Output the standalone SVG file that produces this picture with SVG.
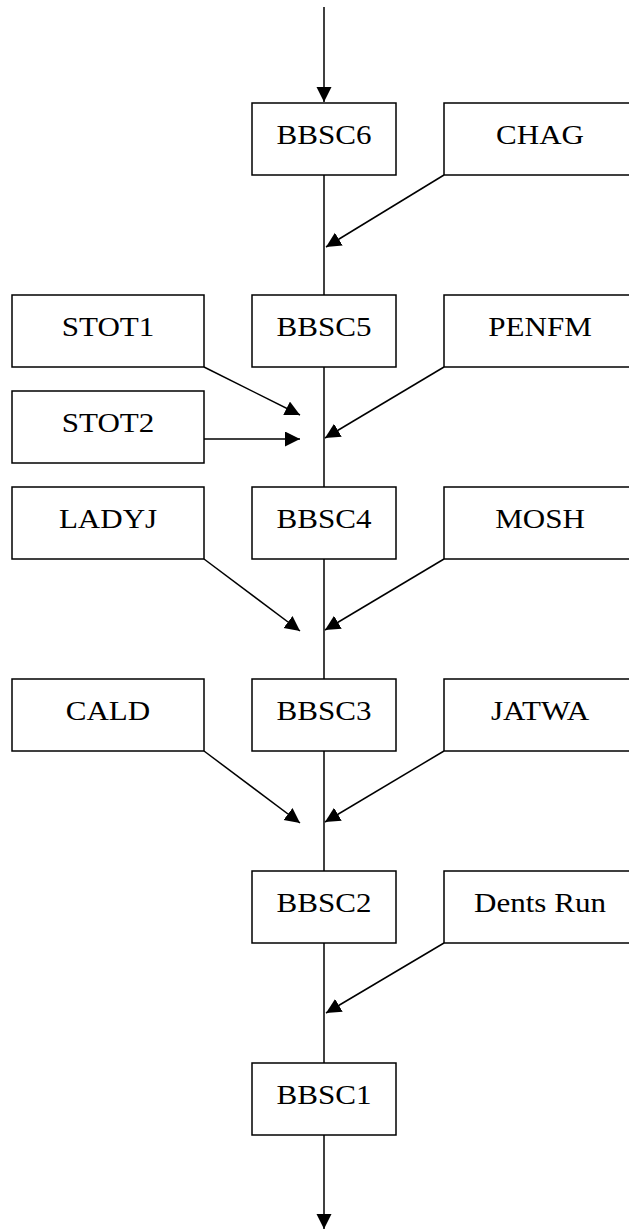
<svg xmlns="http://www.w3.org/2000/svg" width="629" height="1230" viewBox="0 0 629 1230">
<style>
.box{fill:#fff;stroke:#000;stroke-width:1.5}
.lbl{font-family:"Liberation Serif","Times New Roman",serif;font-size:27px;fill:#000;text-anchor:middle}
.ln{stroke:#000;stroke-width:1.5;fill:none}
.arr{marker-end:url(#ah)}
</style>
<defs>
<marker id="ah" markerUnits="userSpaceOnUse" markerWidth="16" markerHeight="16" refX="15" refY="7.5" orient="auto">
<path d="M0,0 L15,7.5 L0,15 Z" fill="#000"/>
</marker>
</defs>
<rect width="629" height="1230" fill="#fff"/>
<g id="connectors">
<line class="ln arr" x1="324" y1="7" x2="324" y2="102"/>
<line class="ln" x1="324" y1="175" x2="324" y2="295"/>
<line class="ln" x1="324" y1="367" x2="324" y2="487"/>
<line class="ln" x1="324" y1="559" x2="324" y2="679"/>
<line class="ln" x1="324" y1="751" x2="324" y2="871"/>
<line class="ln" x1="324" y1="943" x2="324" y2="1063"/>
<line class="ln arr" x1="324" y1="1135" x2="324" y2="1229"/>
<line class="ln arr" x1="444" y1="175" x2="326" y2="247"/>
<line class="ln arr" x1="444" y1="367" x2="325" y2="438"/>
<line class="ln arr" x1="444" y1="559" x2="325" y2="630"/>
<line class="ln arr" x1="444" y1="751" x2="325" y2="822"/>
<line class="ln arr" x1="444" y1="943" x2="326" y2="1013"/>
<line class="ln arr" x1="204" y1="367" x2="300" y2="415"/>
<line class="ln arr" x1="204" y1="439" x2="300" y2="439"/>
<line class="ln arr" x1="204" y1="559" x2="300" y2="631"/>
<line class="ln arr" x1="204" y1="751" x2="300" y2="823"/>
</g>
<g id="BBSC6"><rect class="box" x="252" y="103" width="144" height="72"/><text class="lbl" transform="translate(324,144) scale(1.15,1)">BBSC6</text></g>
<g id="CHAG"><rect class="box" x="444" y="103" width="192" height="72"/><text class="lbl" transform="translate(540,144) scale(1.15,1)">CHAG</text></g>
<g id="STOT1"><rect class="box" x="12" y="295" width="192" height="72"/><text class="lbl" transform="translate(108,336) scale(1.15,1)">STOT1</text></g>
<g id="BBSC5"><rect class="box" x="252" y="295" width="144" height="72"/><text class="lbl" transform="translate(324,336) scale(1.15,1)">BBSC5</text></g>
<g id="PENFM"><rect class="box" x="444" y="295" width="192" height="72"/><text class="lbl" transform="translate(540,336) scale(1.15,1)">PENFM</text></g>
<g id="STOT2"><rect class="box" x="12" y="391" width="192" height="72"/><text class="lbl" transform="translate(108,432) scale(1.15,1)">STOT2</text></g>
<g id="LADYJ"><rect class="box" x="12" y="487" width="192" height="72"/><text class="lbl" transform="translate(108,528) scale(1.15,1)">LADYJ</text></g>
<g id="BBSC4"><rect class="box" x="252" y="487" width="144" height="72"/><text class="lbl" transform="translate(324,528) scale(1.15,1)">BBSC4</text></g>
<g id="MOSH"><rect class="box" x="444" y="487" width="192" height="72"/><text class="lbl" transform="translate(540,528) scale(1.15,1)">MOSH</text></g>
<g id="CALD"><rect class="box" x="12" y="679" width="192" height="72"/><text class="lbl" transform="translate(108,720) scale(1.15,1)">CALD</text></g>
<g id="BBSC3"><rect class="box" x="252" y="679" width="144" height="72"/><text class="lbl" transform="translate(324,720) scale(1.15,1)">BBSC3</text></g>
<g id="JATWA"><rect class="box" x="444" y="679" width="192" height="72"/><text class="lbl" transform="translate(540,720) scale(1.15,1)">JATWA</text></g>
<g id="BBSC2"><rect class="box" x="252" y="871" width="144" height="72"/><text class="lbl" transform="translate(324,912) scale(1.15,1)">BBSC2</text></g>
<g id="DentsRun"><rect class="box" x="444" y="871" width="192" height="72"/><text class="lbl" transform="translate(540,912) scale(1.15,1)">Dents Run</text></g>
<g id="BBSC1"><rect class="box" x="252" y="1063" width="144" height="72"/><text class="lbl" transform="translate(324,1104) scale(1.15,1)">BBSC1</text></g>
</svg>
